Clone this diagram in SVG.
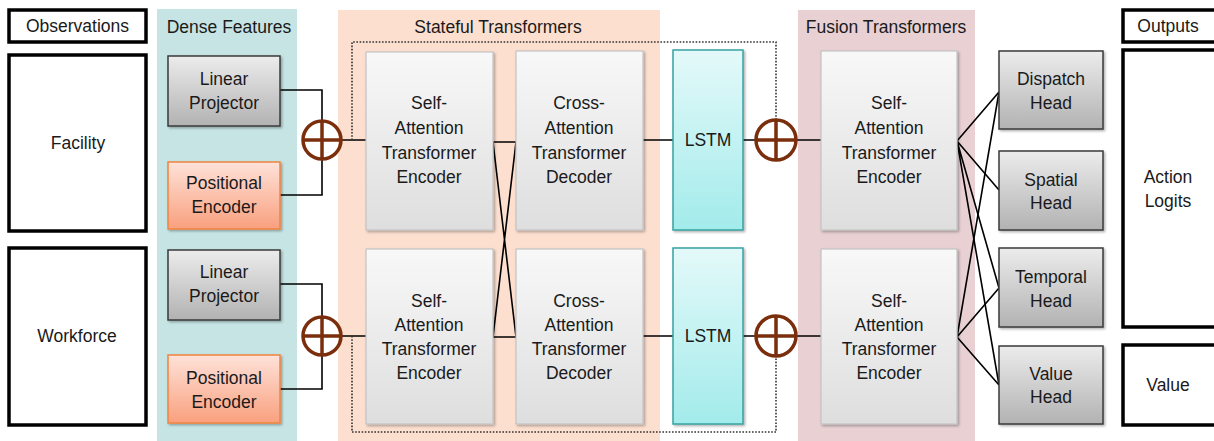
<svg xmlns="http://www.w3.org/2000/svg" width="1214" height="441" viewBox="0 0 1214 441">
<defs>
<linearGradient id="gGray" x1="0" y1="0" x2="0" y2="1"><stop offset="0" stop-color="#ececec"/><stop offset="1" stop-color="#b2b2b2"/></linearGradient>
<linearGradient id="gOrange" x1="0" y1="0" x2="0" y2="1"><stop offset="0" stop-color="#fee2d9"/><stop offset="1" stop-color="#f9a07e"/></linearGradient>
<linearGradient id="gLight" x1="0" y1="0" x2="0" y2="1"><stop offset="0" stop-color="#f8f8f8"/><stop offset="1" stop-color="#dedede"/></linearGradient>
<linearGradient id="gTeal" x1="0" y1="0" x2="0" y2="1"><stop offset="0" stop-color="#e4f9f9"/><stop offset="1" stop-color="#a3ebeb"/></linearGradient>
<filter id="sh" x="-10%" y="-10%" width="130%" height="130%"><feDropShadow dx="1.5" dy="1.5" stdDeviation="1.2" flood-color="#000" flood-opacity="0.3"/></filter>
<style>
text{font-family:"Liberation Sans",Arial,sans-serif;font-size:17.5px;fill:#1a1a1a;text-anchor:middle}
.obs{fill:#fff;stroke:#000;stroke-width:3.5}
.gray{fill:url(#gGray);stroke:#3a3a3a;stroke-width:1.5;filter:url(#sh)}
.orange{fill:url(#gOrange);stroke:#f0843f;stroke-width:1.5;filter:url(#sh)}
.light{fill:url(#gLight);stroke:#c4c4c4;stroke-width:1.2;filter:url(#sh)}
.teal{fill:url(#gTeal);stroke:#34a3a3;stroke-width:1.5;filter:url(#sh)}
.ln{fill:none;stroke:#000;stroke-width:1.6}
.dot{fill:none;stroke:#333;stroke-width:1.6;stroke-dasharray:1.6 1.6}
.plus{fill:none;stroke:#7a2e0c;stroke-width:3.5}
</style>
</defs>
<rect width="1214" height="441" fill="#fff"/>
<g id="group-dense"><rect x="157" y="9" width="140" height="432" fill="#c6e4e4"/><text x="229" y="33">Dense Features</text></g>
<g id="group-stateful"><rect x="338" y="10" width="322" height="431" fill="#fcdfcf"/><text x="498" y="33">Stateful Transformers</text></g>
<g id="group-fusion"><rect x="798" y="10" width="177" height="431" fill="#e8d0d3"/><text x="886" y="33">Fusion Transformers</text></g>

<g id="connectors">
<path class="ln" d="M280 90H322V121M322 159V195H280"/>
<path class="ln" d="M280 284H322V317M322 355V389H280"/>
<path class="ln" d="M342 140H366M342 336H366"/>
<path class="ln" d="M493 142H516L493 337H516L493 142"/>
<path class="ln" d="M643 140H673M643 336H673"/>
<path class="ln" d="M743 140H756M743 336H756"/>
<path class="ln" d="M796 140H821M796 336H821"/>
<path class="ln" d="M957 141L999 92M957 141L999 190M957 141L999 288M957 141L999 385"/>
<path class="ln" d="M957 337L999 92M957 337L999 288M957 337L999 385"/>
<path class="dot" d="M352 140V42H776V120"/>
<path class="dot" d="M352 336V432H776V356"/>
</g>

<g id="node-observations"><rect class="obs" x="9" y="10" width="137" height="32"/><text x="77.5" y="32">Observations</text></g>
<g id="node-facility"><rect class="obs" x="9" y="55" width="137" height="176"/><text x="78" y="149">Facility</text></g>
<g id="node-workforce"><rect class="obs" x="9" y="248" width="137" height="177"/><text x="77" y="342">Workforce</text></g>

<g id="node-linproj1"><rect class="gray" x="168" y="56" width="112" height="70"/><text x="224" y="85">Linear</text><text x="224" y="109">Projector</text></g>
<g id="node-posenc1"><rect class="orange" x="168" y="162" width="112" height="67"/><text x="224" y="189">Positional</text><text x="224" y="213">Encoder</text></g>
<g id="node-linproj2"><rect class="gray" x="168" y="250" width="112" height="70"/><text x="224" y="278">Linear</text><text x="224" y="302">Projector</text></g>
<g id="node-posenc2"><rect class="orange" x="168" y="355" width="112" height="68"/><text x="224" y="384">Positional</text><text x="224" y="408">Encoder</text></g>

<g id="node-add1"><circle class="plus" cx="322" cy="140" r="19"/><path class="plus" d="M303 140H341M322 121V159"/></g>
<g id="node-add2"><circle class="plus" cx="322" cy="336" r="19"/><path class="plus" d="M303 336H341M322 317V355"/></g>

<g id="node-enc1"><rect class="light" x="366" y="52" width="127" height="178"/><text x="429" y="109">Self-</text><text x="429" y="134">Attention</text><text x="429" y="159">Transformer</text><text x="429" y="183">Encoder</text></g>
<g id="node-dec1"><rect class="light" x="516" y="51" width="127" height="179"/><text x="579" y="109">Cross-</text><text x="579" y="134">Attention</text><text x="579" y="159">Transformer</text><text x="579" y="183">Decoder</text></g>
<g id="node-enc2"><rect class="light" x="366" y="249" width="127" height="175"/><text x="429" y="307">Self-</text><text x="429" y="331">Attention</text><text x="429" y="355">Transformer</text><text x="429" y="379">Encoder</text></g>
<g id="node-dec2"><rect class="light" x="516" y="249" width="127" height="175"/><text x="579" y="307">Cross-</text><text x="579" y="331">Attention</text><text x="579" y="355">Transformer</text><text x="579" y="379">Decoder</text></g>

<g id="node-lstm1"><rect class="teal" x="673" y="50" width="70" height="180"/><text x="708" y="146">LSTM</text></g>
<g id="node-lstm2"><rect class="teal" x="673" y="248" width="70" height="176"/><text x="708" y="342">LSTM</text></g>

<g id="node-add3"><circle class="plus" cx="776" cy="140" r="20"/><path class="plus" d="M756 140H796M776 120V160"/></g>
<g id="node-add4"><circle class="plus" cx="776" cy="336" r="20"/><path class="plus" d="M756 336H796M776 316V356"/></g>

<g id="node-fenc1"><rect class="light" x="821" y="51" width="136" height="179"/><text x="889" y="109">Self-</text><text x="889" y="134">Attention</text><text x="889" y="159">Transformer</text><text x="889" y="183">Encoder</text></g>
<g id="node-fenc2"><rect class="light" x="821" y="249" width="136" height="175"/><text x="889" y="307">Self-</text><text x="889" y="331">Attention</text><text x="889" y="355">Transformer</text><text x="889" y="379">Encoder</text></g>

<g id="node-dispatch"><rect class="gray" x="999" y="51" width="104" height="78"/><text x="1051" y="85">Dispatch</text><text x="1051" y="109">Head</text></g>
<g id="node-spatial"><rect class="gray" x="999" y="151" width="104" height="79"/><text x="1051" y="186">Spatial</text><text x="1051" y="209">Head</text></g>
<g id="node-temporal"><rect class="gray" x="999" y="248" width="104" height="79"/><text x="1051" y="283">Temporal</text><text x="1051" y="307">Head</text></g>
<g id="node-valuehead"><rect class="gray" x="999" y="346" width="104" height="78"/><text x="1051" y="380">Value</text><text x="1051" y="403">Head</text></g>

<g id="node-outputs"><rect class="obs" x="1123" y="10" width="94" height="32"/><text x="1168" y="32">Outputs</text></g>
<g id="node-logits"><rect class="obs" x="1123" y="50" width="94" height="277"/><text x="1168" y="183">Action</text><text x="1168" y="207">Logits</text></g>
<g id="node-value"><rect class="obs" x="1123" y="345" width="94" height="80"/><text x="1168" y="391">Value</text></g>
</svg>
